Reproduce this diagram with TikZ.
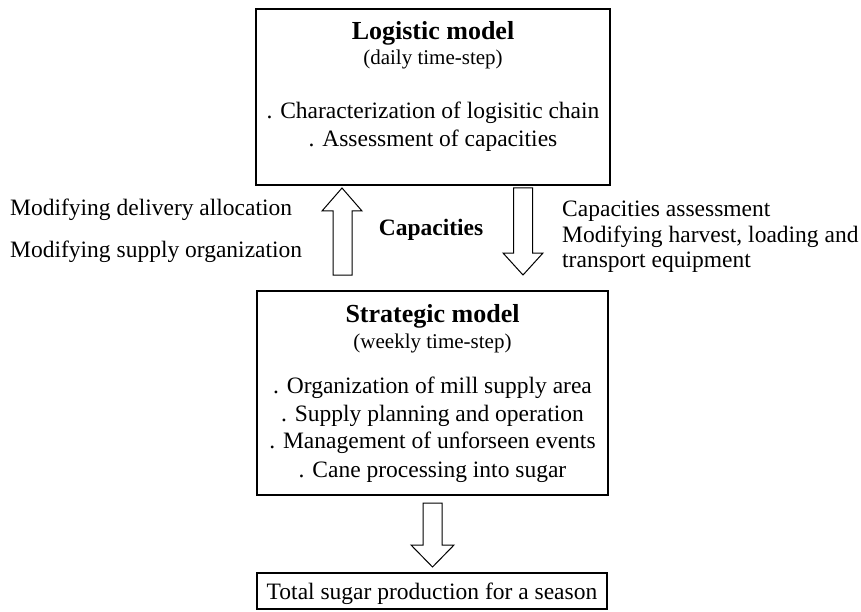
\documentclass[tikz,border=0pt]{standalone}
\usepackage{fontspec}
\setmainfont{Liberation Serif}
\begin{document}
\begin{tikzpicture}[x=1pt,y=-1pt,
  box/.style={draw=black,line width=1.2pt,fill=white,inner sep=0pt},
  body/.style={anchor=base,inner sep=0pt,font=\fontsize{23.5}{27}\selectfont},
  lbl/.style={anchor=base west,inner sep=0pt,font=\fontsize{23.5}{27}\selectfont},
  ttl/.style={anchor=base,inner sep=0pt,font=\fontsize{26}{30}\selectfont\bfseries},
  sub/.style={anchor=base,inner sep=0pt,font=\fontsize{21}{25}\selectfont},
  blockarrow/.style={draw=black,line width=1pt,fill=white,line join=miter}]
\useasboundingbox (0,0) rectangle (861,612);
% boxes
\node[box,minimum width=354pt,minimum height=176pt] (logbox) at (433,97) {};
\node[box,minimum width=351pt,minimum height=204pt] (stratbox) at (432.5,393) {};
\node[box,minimum width=350pt,minimum height=36pt] (totbox) at (432,591) {};
% logistic text
\node[ttl] (logt) at (433,40) {Logistic model};
\node[sub] (logs) at (433,65) {(daily time-step)};
\node[body] (log1) at (433,119) {. Characterization of logisitic chain};
\node[body] (log2) at (433,147) {. Assessment of capacities};
% strategic text
\node[ttl] (strt) at (432.5,322) {Strategic model};
\node[sub] (strs) at (432.5,348) {(weekly time-step)};
\node[body] (str1) at (432.5,393) {. Organization of mill supply area};
\node[body] (str2) at (432.5,421) {. Supply planning and operation};
\node[body] (str3) at (432.5,448) {. Management of unforseen events};
\node[body] (str4) at (432.5,477) {. Cane processing into sugar};
% total
\node[body] (tot) at (432,599) {Total sugar production for a season};
% side labels
\node[lbl] (l1) at (10,216) {Modifying delivery allocation};
\node[lbl] (l2) at (10,257) {Modifying supply organization};
\node[lbl] (r1) at (562,217) {Capacities assessment};
\node[lbl] (r2) at (562,242) {Modifying harvest, loading and};
\node[lbl] (r3) at (562,267) {transport equipment};
\node[anchor=base,inner sep=0pt,font=\fontsize{23.5}{27}\selectfont\bfseries] (cap) at (431,236) {Capacities};
% block arrows
\draw[blockarrow] (333,275) -- (333,211) -- (322,211) -- (342,188) -- (362,211) -- (352,211) -- (352,275) -- cycle;
\draw[blockarrow] (513.5,188) -- (513.5,253) -- (503,253) -- (523,275) -- (543,253) -- (532.5,253) -- (532.5,188) -- cycle;
\draw[blockarrow] (423,503) -- (423,545) -- (411,545) -- (432.5,567) -- (454,545) -- (442,545) -- (442,503) -- cycle;
\end{tikzpicture}
\end{document}
